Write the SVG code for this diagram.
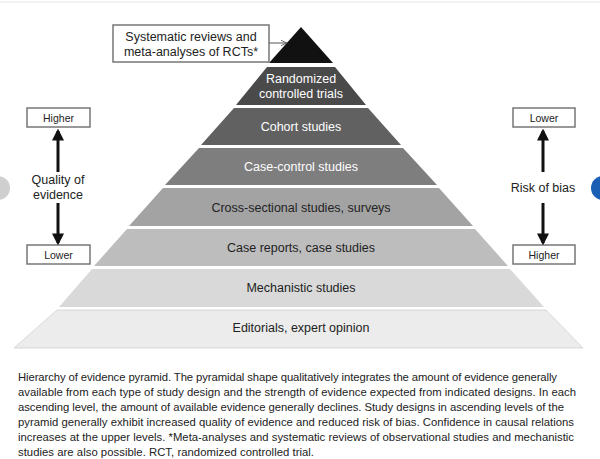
<svg xmlns="http://www.w3.org/2000/svg" width="600" height="459" viewBox="0 0 600 459">
<defs>
<marker id="ah" viewBox="0 0 10 10" refX="8" refY="5" markerWidth="4" markerHeight="4" orient="auto"><path d="M0,0 L10,5 L0,10 z" fill="#111"/></marker>
<marker id="oa" viewBox="0 0 10 10" refX="9" refY="5" markerWidth="7" markerHeight="7" orient="auto"><path d="M0,1 L9,5 L0,9" fill="none" stroke="#555" stroke-width="1.2"/></marker>
</defs>
<style>
text{font-family:"Liberation Sans",Arial,sans-serif;}
.l{font-size:12.5px;text-anchor:middle;}
.w{fill:#fff}
.k{fill:#222}
.box{fill:#fff;stroke:#777;stroke-width:1.5}
.cap{font-size:11.3px;fill:#222}
</style>
<rect width="600" height="459" fill="#fff"/>
<line x1="0" y1="2" x2="600" y2="2" stroke="#e6e6e6"/>
<g id="pyramid">
<g id="n1"><polygon points="301,27 269,63 333,63" fill="#111"/></g>
<g id="n2"><polygon points="267,67 335,67 366,105 236,105" fill="#4a4a4a"/><text class="l w" x="301" y="83">Randomized</text><text class="l w" x="301" y="98">controlled trials</text></g>
<g id="n3"><polygon points="234,108 368,108 401,145 201,145" fill="#616161"/><text class="l w" x="301" y="131">Cohort studies</text></g>
<g id="n4"><polygon points="199,148 403,148 437,185 165,185" fill="#7e7e7e"/><text class="l w" x="301" y="171">Case-control studies</text></g>
<g id="n5"><polygon points="163,188 439,188 473,226 129,226" fill="#a3a3a3"/><text class="l k" x="301" y="212">Cross-sectional studies, surveys</text></g>
<g id="n6"><polygon points="127,229 475,229 508,266 94,266" fill="#bdbdbd"/><text class="l k" x="301" y="252">Case reports, case studies</text></g>
<g id="n7"><polygon points="92,269 510,269 544,307 59,307" fill="#d9d9d9"/><text class="l k" x="301" y="292">Mechanistic studies</text></g>
<g id="n8"><polygon points="57,310 546,310 583,348 14,348" fill="#ececec" stroke="#d0d0d0" stroke-width="0.8"/><text class="l k" x="301" y="332">Editorials, expert opinion</text></g>
</g>
<g id="topbox"><rect class="box" x="113" y="25" width="156" height="37"/><text class="l k" x="191" y="41">Systematic reviews and</text><text class="l k" x="191" y="56">meta-analyses of RCTs*</text></g>
<g id="left"><rect class="box" x="27" y="108" width="63" height="19" stroke-width="2"/><text class="l k" style="font-size:10.5px" x="58.5" y="121.5">Higher</text>
<text class="l k" x="58" y="184">Quality of</text><text class="l k" x="58" y="199">evidence</text>
<rect class="box" x="27" y="245" width="63" height="19" stroke-width="2"/><text class="l k" style="font-size:10.5px" x="58.5" y="258.5">Lower</text></g>
<g id="right"><rect class="box" x="513" y="108" width="62" height="19" stroke-width="2"/><text class="l k" style="font-size:10.5px" x="544" y="121.5">Lower</text>
<text class="l k" x="543" y="192">Risk of bias</text>
<rect class="box" x="513" y="245" width="62" height="19" stroke-width="2"/><text class="l k" style="font-size:10.5px" x="544" y="258.5">Higher</text></g>
<g id="connectors" stroke="#111" stroke-width="3">
<line x1="58" y1="172" x2="58" y2="131" marker-end="url(#ah)"/>
<line x1="58" y1="203" x2="58" y2="243" marker-end="url(#ah)"/>
<line x1="543" y1="172" x2="543" y2="131" marker-end="url(#ah)"/>
<line x1="543" y1="203" x2="543" y2="243" marker-end="url(#ah)"/>
<line x1="269" y1="43" x2="287" y2="43" stroke="#555" stroke-width="1" marker-end="url(#oa)"/>
</g>
<circle cx="-2" cy="188" r="12" fill="#cfcfcf"/>
<circle cx="603" cy="188" r="12" fill="#1a5fb4"/>
<g id="caption" class="cap">
<text class="cap" x="18" y="381" textLength="539" lengthAdjust="spacing">Hierarchy of evidence pyramid. The pyramidal shape qualitatively integrates the amount of evidence generally</text>
<text class="cap" x="18" y="396" textLength="558" lengthAdjust="spacing">available from each type of study design and the strength of evidence expected from indicated designs. In each</text>
<text class="cap" x="18" y="411" textLength="546" lengthAdjust="spacing">ascending level, the amount of available evidence generally declines. Study designs in ascending levels of the</text>
<text class="cap" x="18" y="426" textLength="556" lengthAdjust="spacing">pyramid generally exhibit increased quality of evidence and reduced risk of bias. Confidence in causal relations</text>
<text class="cap" x="18" y="441" textLength="556" lengthAdjust="spacing">increases at the upper levels. *Meta-analyses and systematic reviews of observational studies and mechanistic</text>
<text class="cap" x="18" y="456" textLength="296" lengthAdjust="spacing">studies are also possible. RCT, randomized controlled trial.</text>
</g>
</svg>
